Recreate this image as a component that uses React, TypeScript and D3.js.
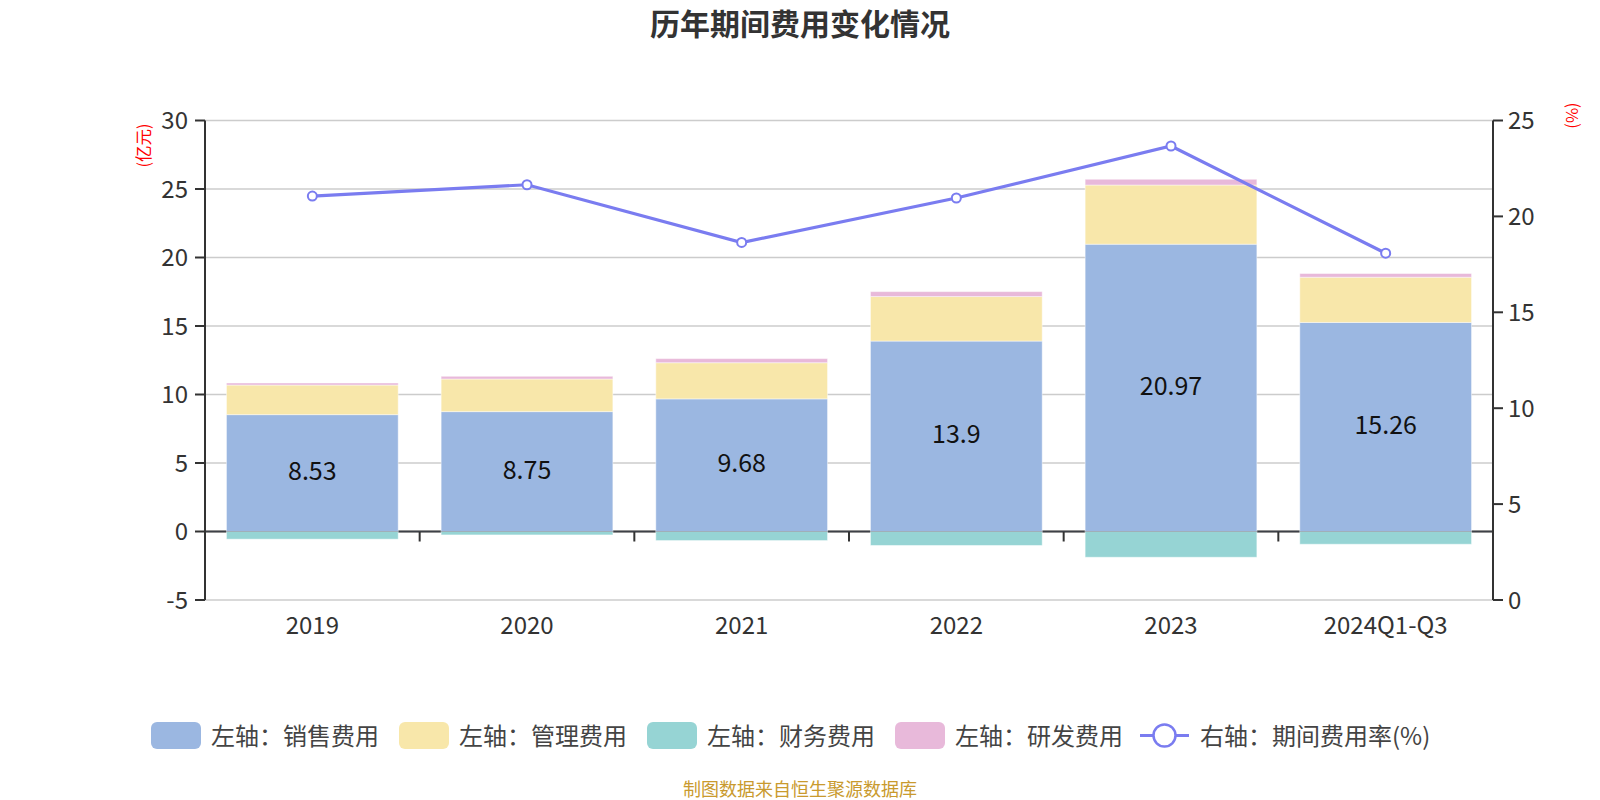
import React from "react";
import * as d3 from "d3";

const categories = ["2019", "2020", "2021", "2022", "2023", "2024Q1-Q3"];
const salesExp = [8.53, 8.75, 9.68, 13.9, 20.97, 15.26];
const adminExp = [2.16, 2.38, 2.64, 3.25, 4.32, 3.3];
const financeExp = [-0.56, -0.25, -0.66, -1.02, -1.88, -0.93];
const rdExp = [0.15, 0.2, 0.3, 0.36, 0.42, 0.27];
const expenseRate = [21.06, 21.65, 18.64, 20.96, 23.67, 18.08];
const leftTicks = [-5, 0, 5, 10, 15, 20, 25, 30];
const rightTicks = [0, 5, 10, 15, 20, 25];

const seriesNames = ["左轴：销售费用", "左轴：管理费用", "左轴：财务费用", "左轴：研发费用"];
const lineName = "右轴：期间费用率(%)";
const title = "历年期间费用变化情况";
const footer = "制图数据来自恒生聚源数据库";

const COLORS = ["#9bb7e1", "#f8e7aa", "#96d4d4", "#e8b9da"];
const LINE_COLOR = "#7a7cf0";
const FONT = "'Microsoft YaHei', 'Noto Sans CJK SC', 'Noto Sans', sans-serif";

const W = 1600;
const H = 800;
const L = 205;
const R = 1493;
const T = 120.5;
const B = 600;

export default function App() {
  const x = d3.scaleBand<string>().domain(categories).range([L, R]).paddingInner(0.2).paddingOuter(0.1);
  const step = (R - L) / categories.length;
  const yL = d3.scaleLinear().domain([-5, 30]).range([B, T]);
  const yR = d3.scaleLinear().domain([0, 25]).range([B, T]);

  const keys = ["sales", "admin", "finance", "rd"];
  const rows = categories.map((c, i) => ({
    cat: c,
    sales: salesExp[i],
    admin: adminExp[i],
    finance: financeExp[i],
    rd: rdExp[i],
  }));
  const stacked = d3.stack<any>().keys(keys).offset(d3.stackOffsetDiverging)(rows);

  const line = d3
    .line<number>()
    .x((_, i) => (x(categories[i]) as number) + x.bandwidth() / 2)
    .y((d) => yR(d));

  const legendStart = 151;
  const legendStep = 248;

  return (
    <div style={{ position: "fixed", left: 0, top: 0, width: W, height: H, background: "#fff" }}>
      <svg width={W} height={H} style={{ display: "block", fontFamily: FONT }}>
        <rect x={0} y={0} width={W} height={H} fill="#fff" />
        <text x={800} y={22} textAnchor="middle" dominantBaseline="central" fontSize={30} fontWeight="bold" fill="#333">
          {title}
        </text>

        {/* gridlines */}
        {leftTicks.map((t) => (
          <line key={"g" + t} x1={L} x2={R} y1={yL(t)} y2={yL(t)} stroke="#cccccc" strokeWidth={1.5} />
        ))}

        {/* x axis line at zero */}
        <line x1={L} x2={R} y1={yL(0)} y2={yL(0)} stroke="#333" strokeWidth={2} />
        {d3.range(categories.length + 1).map((k) => (
          <line key={"xt" + k} x1={L + k * step} x2={L + k * step} y1={yL(0)} y2={yL(0) + 10} stroke="#333" strokeWidth={2} />
        ))}

        {/* bars */}
        {stacked.map((s, si) => (
          <g key={s.key}>
            {s.map((d, i) => {
              const y0 = yL(d[0]);
              const y1 = yL(d[1]);
              return (
                <rect
                  key={i}
                  x={x(categories[i])}
                  width={x.bandwidth()}
                  y={Math.min(y0, y1)}
                  height={Math.abs(y0 - y1)}
                  fill={COLORS[si]}
                  stroke="rgba(255,255,255,0.45)"
                  strokeWidth={1}
                />
              );
            })}
          </g>
        ))}
        <line x1={L} x2={R} y1={yL(0)} y2={yL(0)} stroke="rgba(80,90,110,0.35)" strokeWidth={1} />

        {/* bar labels */}
        {salesExp.map((v, i) => (
          <text
            key={"bl" + i}
            x={(x(categories[i]) as number) + x.bandwidth() / 2}
            y={yL(v / 2) - 4}
            textAnchor="middle"
            dominantBaseline="central"
            fontSize={25}
            fill="#111"
          >
            {String(v)}
          </text>
        ))}

        {/* left axis */}
        <line x1={L} x2={L} y1={T} y2={B} stroke="#333" strokeWidth={2} />
        {leftTicks.map((t) => (
          <g key={"lt" + t}>
            <line x1={L - 10} x2={L} y1={yL(t)} y2={yL(t)} stroke="#333" strokeWidth={2} />
            <text x={188} y={yL(t) - 2} textAnchor="end" dominantBaseline="central" fontSize={24} fill="#333">
              {t}
            </text>
          </g>
        ))}
        <text
          transform={`translate(143,145.5) rotate(-90)`}
          textAnchor="middle"
          dominantBaseline="central"
          fontSize={16.5}
          fill="#ff0000"
        >
          (亿元)
        </text>

        {/* right axis */}
        <line x1={R} x2={R} y1={T} y2={B} stroke="#333" strokeWidth={2} />
        {rightTicks.map((t) => (
          <g key={"rt" + t}>
            <line x1={R} x2={R + 10} y1={yR(t)} y2={yR(t)} stroke="#333" strokeWidth={2} />
            <text x={1508} y={yR(t) - 2} textAnchor="start" dominantBaseline="central" fontSize={24} fill="#333">
              {t}
            </text>
          </g>
        ))}
        <text
          transform={`translate(1571,115.5) rotate(-90)`}
          textAnchor="middle"
          dominantBaseline="central"
          fontSize={16.5}
          fill="#ff0000"
        >
          (%)
        </text>

        {/* x labels */}
        {categories.map((c) => (
          <text
            key={"xl" + c}
            x={(x(c) as number) + x.bandwidth() / 2}
            y={623}
            textAnchor="middle"
            dominantBaseline="central"
            fontSize={24}
            fill="#333"
          >
            {c}
          </text>
        ))}

        {/* rate line */}
        <path d={line(expenseRate) || ""} fill="none" stroke={LINE_COLOR} strokeWidth={3.2} />
        {expenseRate.map((v, i) => (
          <circle
            key={"pt" + i}
            cx={(x(categories[i]) as number) + x.bandwidth() / 2}
            cy={yR(v)}
            r={4.5}
            fill="#fff"
            stroke={LINE_COLOR}
            strokeWidth={2}
          />
        ))}

        {/* legend */}
        {seriesNames.map((n, i) => {
          const lx = legendStart + i * legendStep;
          return (
            <g key={"lg" + i}>
              <rect x={lx} y={722} width={50} height={27} rx={6} fill={COLORS[i]} />
              <text x={lx + 60} y={734.5} dominantBaseline="central" fontSize={24} fill="#444">
                {n}
              </text>
            </g>
          );
        })}
        {(() => {
          const lx = legendStart + 4 * legendStep - 3;
          return (
            <g>
              <line x1={lx} x2={lx + 49} y1={735.5} y2={735.5} stroke={LINE_COLOR} strokeWidth={3} />
              <circle cx={lx + 24.5} cy={735.5} r={11} fill="#fff" stroke={LINE_COLOR} strokeWidth={2.5} />
              <text x={lx + 60} y={734.5} dominantBaseline="central" fontSize={24} fill="#444">
                {lineName}
              </text>
            </g>
          );
        })()}

        <text x={800} y={788} textAnchor="middle" dominantBaseline="central" fontSize={18} fill="#c99a2e">
          {footer}
        </text>
      </svg>
    </div>
  );
}
